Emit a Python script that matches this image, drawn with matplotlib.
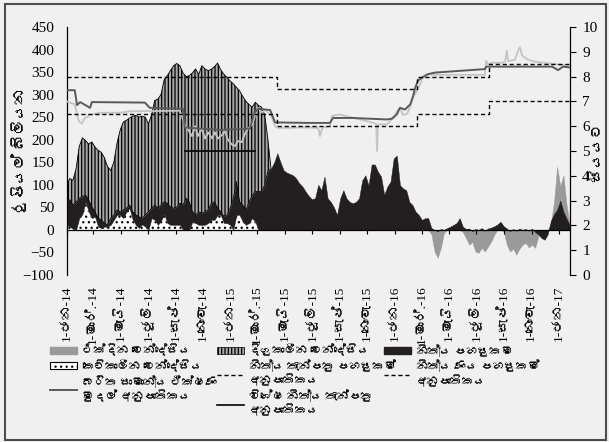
import warnings
import matplotlib
matplotlib.use("Agg")
import matplotlib.pyplot as plt
from matplotlib import font_manager
from matplotlib.ft2font import FT2Font
from matplotlib.patches import Patch, Rectangle
from matplotlib.lines import Line2D
import numpy as np
import pandas as pd

warnings.filterwarnings("ignore")

# ---------------------------------------------------------------------------
# dados - Rs. bn, observações semanais a partir de 01-01-2014
# ---------------------------------------------------------------------------
week_start = "2014-01-01"
n_weeks = 161

short_term = [11, 7, 2, 0, 26, 35, 62, 40, 26, 29,
              7, 4, 7, 7, 11, 22, 33, 33, 26, 40,
              48, 22, 11, 4, 12, 7, 0, 26, 22, 11,
              20, 35, 15, 11, 11, 11, 11, 0, 0, 0,
              18, 15, 11, 11, 11, 15, 22, 22, 33, 33,
              15, 15, 11, 0, 33, 33, 18, 11, 15, 26,
              18, 0] + [0] * 99

standing = [59, 59, 53, 62, 44, 39, 15, 26, 25, 11,
            19, 18, 8, 4, 15, 11, 11, 7, 18, 8,
            7, 18, 22, 25, 14, 26, 40, 22, 33, 37,
            35, 27, 44, 40, 37, 40, 48, 55, 70, 62,
            22, 18, 29, 26, 29, 29, 37, 40, 15, 7,
            15, 18, 37, 70, 74, 29, 37, 33, 47, 51,
            67, 85, 85, 100, 130,
            136, 150, 170, 150, 132,
            127, 124, 121, 114, 103, 96, 85, 75, 68, 70,
            100, 88, 118, 70, 62, 50, 33, 70, 88, 70,
            62, 59, 62, 70, 110, 121, 99, 145, 145, 129,
            118, 78, 96, 107, 158, 165, 99, 92, 88, 62,
            55, 40, 33, 22, 26, 26, 4,
            0, -3, 2, 0, 4, 7, 11, 15, 26, 7,
            2, 3, -3, 2, 0, 4, -2, 3, 5, 8,
            12, 18, 8, 3, -3, 2, -2, 3, 0, 2,
            -2, 3, -5, -10, -18, -22, -10, 20, 35, 45,
            65, 40, 25, 10]

long_term = [30, 48, 55, 74, 115, 130, 121, 124, 144, 144,
             150, 150, 145, 129, 106, 117, 148, 181, 195, 195,
             193, 212, 221, 221, 226, 217, 195, 207, 232, 242,
             245, 271, 283, 302, 316, 318, 305, 293, 270, 280,
             308, 324, 305, 327, 317, 309, 297, 300, 322, 315,
             315, 305, 282, 254, 209, 246, 241, 241, 216, 195,
             198, 191, 187, 155, 70] + [0] * 96

overnight = [0] * 116 + [-10, -48, -62, -40, -7, 0, 0, 0, 0, 0,
                         -5, -18, -33, -27, -48, -51, -40, -48, -37, -26,
                         -11, 0, 0, -4, -33, -48, -42, -55, -42, -33,
                         -29, -39, -33, -40, -15, -2, 0, 0, 15, 62,
                         140, 96, 121, 55, 11]

# taxas de política (%)
slfr_dates = ["2014-01-01", "2015-04-15", "2016-02-19", "2016-07-29", "2017-01-25"]
slfr_vals = [8.0, 7.5, 8.0, 8.5, 8.5]
sdfr_dates = ["2014-01-01", "2015-04-15", "2016-02-19", "2016-07-29", "2017-01-25"]
sdfr_vals = [6.5, 6.0, 6.5, 7.0, 7.0]
special_dates = ["2014-09-22", "2015-02-25"]
special_vals = [5.0, 5.0]

awcmr_dates = ["2014-01-01", "2014-01-19", "2014-01-24", "2014-01-31", "2014-02-22",
               "2014-02-26", "2014-06-24", "2014-07-05", "2014-09-17", "2014-09-21",
               "2014-10-25", "2014-12-08", "2015-02-13", "2015-02-22", "2015-03-03",
               "2015-03-30", "2015-04-10", "2015-06-27", "2015-08-10", "2015-08-17",
               "2015-09-30", "2015-12-15", "2015-12-26", "2016-01-06", "2016-01-13",
               "2016-01-24", "2016-02-05", "2016-02-11", "2016-02-16", "2016-02-22",
               "2016-03-02", "2016-03-16", "2016-03-31", "2016-07-20", "2016-07-23",
               "2016-11-25", "2016-12-17", "2016-12-30", "2017-01-10", "2017-01-25"]
awcmr_vals = [7.45, 7.45, 6.85, 6.97, 6.74,
              6.97, 6.95, 6.74, 6.70, 5.95,
              5.90, 5.85, 5.90, 6.50, 6.70,
              6.65, 6.15, 6.13, 6.13, 6.33,
              6.33, 6.27, 6.30, 6.47, 6.74,
              6.67, 6.88, 7.20, 7.55, 7.83,
              7.96, 8.10, 8.16, 8.30, 8.40,
              8.40, 8.40, 8.26, 8.40, 8.37]

market_dates = ["2014-01-01", "2014-01-08", "2014-01-19", "2014-01-24", "2014-01-28",
                "2014-02-04", "2014-02-09", "2014-02-22", "2014-03-16", "2014-04-30",
                "2014-05-22", "2014-09-10", "2014-09-21", "2014-09-28", "2014-10-07",
                "2014-10-14", "2014-10-20", "2014-10-29", "2014-11-05", "2014-11-12",
                "2014-11-21", "2014-11-27", "2014-12-04", "2014-12-13", "2014-12-19",
                "2014-12-26", "2015-01-04", "2015-01-11", "2015-01-17", "2015-01-26",
                "2015-02-02", "2015-02-09", "2015-02-18", "2015-02-24", "2015-03-03",
                "2015-03-12", "2015-03-19", "2015-03-25", "2015-04-03", "2015-04-10",
                "2015-04-16", "2015-05-13", "2015-06-05", "2015-07-15", "2015-07-19",
                "2015-07-24", "2015-08-10", "2015-08-15", "2015-09-01", "2015-09-30",
                "2015-11-01", "2015-11-21", "2015-11-23", "2015-11-25", "2015-12-15",
                "2015-12-29", "2016-01-07", "2016-01-13", "2016-01-20", "2016-01-29",
                "2016-02-04", "2016-02-11", "2016-02-20", "2016-02-27", "2016-03-04",
                "2016-03-13", "2016-03-31", "2016-07-20", "2016-07-23", "2016-07-27",
                "2016-08-05", "2016-08-23", "2016-09-03", "2016-09-07", "2016-09-10",
                "2016-09-25", "2016-10-02", "2016-10-06", "2016-10-11", "2016-10-24",
                "2016-11-09", "2016-12-01", "2016-12-23", "2017-01-15", "2017-01-25"]
market_vals = [7.00, 6.95, 6.88, 6.47, 6.20,
               6.10, 6.30, 6.45, 6.54, 6.54,
               6.60, 6.62, 6.07, 5.86, 5.60,
               6.00, 5.60, 5.90, 5.50, 5.75,
               5.50, 5.75, 5.50, 5.65, 5.80,
               5.45, 5.26, 5.20, 5.40, 5.35,
               5.70, 5.90, 6.07, 6.42, 6.74,
               6.55, 6.67, 6.55, 6.35, 6.00,
               5.93, 5.93, 5.95, 5.93, 5.60,
               5.93, 6.00, 6.42, 6.47, 6.34,
               6.20, 6.10, 5.00, 6.07, 6.07,
               6.34, 6.62, 6.74, 6.45, 6.50,
               6.74, 7.15, 7.43, 7.69, 7.96,
               8.10, 8.07, 8.07, 8.64, 8.50,
               8.56, 8.55, 8.60, 9.04, 8.62,
               8.68, 9.04, 9.18, 8.85, 8.68,
               8.60, 8.55, 8.50, 8.45, 8.35]

xtick_labels = ["1-ජන-14", "1-මාර්.-14", "1-මැයි-14", "1-ජූලි-14", "1-සැප්-14", "1-නොවැ-14",
                "1-ජන-15", "1-මාර්.-15", "1-මැයි-15", "1-ජූලි-15", "1-සැප්-15", "1-නොවැ-15",
                "1-ජන-16", "1-මාර්.-16", "1-මැයි-16", "1-ජූලි-16", "1-සැප්-16", "1-නොවැ-16",
                "1-ජන-17"]

lbl_overnight = "එක්දින වෙන්දේසිය"
lbl_long = "දිගුකාලීන වෙන්දේසිය"
lbl_standing = "නිත්‍ය පහසුකම"
lbl_short = "කෙටිකාලීන වෙන්දේසිය"
lbl_sdfr = "නිත්‍ය තැන්පතු පහසුකම්\nඅනුපාතිකය"
lbl_slfr = "නිත්‍ය ණය පහසුකම්\nඅනුපාතිකය"
lbl_awcmr = "බරිත සාමාන්‍ය ඒක්ෂණ\nමුදල් අනුපාතිකය"
lbl_special = "විශේෂ නිත්‍ය තැන්පතු\nඅනුපාතිකය"

# ---------------------------------------------------------------------------
# fontes: procura uma família com glifos cingaleses, se houver
# ---------------------------------------------------------------------------
def _sinhala_font():
    for f in font_manager.fontManager.ttflist:
        try:
            if 0x0DBB in FT2Font(f.fname).get_charmap():
                return f.name
        except Exception:
            continue
    return None


_si = _sinhala_font()
families = ["Liberation Serif"] + ([_si] if _si else []) + ["DejaVu Sans"]
plt.rcParams["font.family"] = families
plt.rcParams["hatch.linewidth"] = 0.9

BG = "#f0f0f0"
GRAY = "#9a9a9a"
BLACK = "#231f20"
HATCH_FACE = "#a8a8a8"
DARK_LINE = "#5a5a5a"
LIGHT_LINE = "#c4c4c4"
DASH = (0, (3, 2))

dates = pd.date_range(week_start, periods=n_weeks, freq="7D")
st = np.array(short_term, float)
sf = np.array(standing, float)
lt = np.array(long_term, float)
on = np.array(overnight, float)

fig = plt.figure(figsize=(6.09, 4.42), dpi=100, facecolor=BG)
ax = fig.add_axes([0.1095, 0.378, 0.826, 0.561])
ax.set_facecolor("none")

# áreas de liquidez (eixo esquerdo)
ax.fill_between(dates, 0, on, facecolor=GRAY, edgecolor=GRAY, lw=0.3, zorder=1)
n_st = np.flatnonzero(st).max() + 2
ax.fill_between(dates[:n_st], 0, st[:n_st], facecolor="white", edgecolor="black",
                hatch="...", lw=0, zorder=2)
ax.fill_between(dates, st, st + sf, facecolor=BLACK, edgecolor=BLACK, lw=0.3, zorder=2)
n_lt = np.flatnonzero(lt).max() + 2
ax.fill_between(dates[:n_lt], (st + sf)[:n_lt], (st + sf + lt)[:n_lt],
                facecolor=HATCH_FACE, edgecolor="black", hatch="|||||", lw=0.6, zorder=2)

ax.set_xlim(dates[0], dates[-1])
ax.set_ylim(-100, 450)
ax.set_yticks(np.arange(-100, 451, 50))
ax.set_xticks(pd.date_range("2014-01-01", "2017-01-01", freq="2MS"))
ax.set_xticklabels(xtick_labels)

ax.spines["top"].set_visible(False)
ax.spines["right"].set_visible(False)
ax.spines["bottom"].set_position(("data", 0))
ax.spines["bottom"].set_linewidth(0.9)
ax.spines["left"].set_linewidth(0.9)
ax.tick_params(axis="y", length=0, pad=9, labelsize=11)
ax.tick_params(axis="x", direction="out", length=3, width=0.8, pad=37,
               rotation=90, labelsize=9.5)

# taxas (eixo direito)
ax2 = ax.twinx()
ax2.set_ylim(0, 10)
ax2.set_yticks(range(0, 11))
ax2.plot(pd.to_datetime(market_dates), market_vals, color=LIGHT_LINE, lw=1.3, zorder=3)
ax2.plot(pd.to_datetime(awcmr_dates), awcmr_vals, color=DARK_LINE, lw=1.4, zorder=4)
ax2.step(pd.to_datetime(slfr_dates), slfr_vals, where="post", color="black",
         lw=1.0, ls=DASH, zorder=5)
ax2.step(pd.to_datetime(sdfr_dates), sdfr_vals, where="post", color="black",
         lw=1.0, ls=DASH, zorder=5)
ax2.plot(pd.to_datetime(special_dates), special_vals, color="black", lw=1.2, zorder=5)
ax2.set_xlim(dates[0], dates[-1])
for s in ("top", "left", "bottom"):
    ax2.spines[s].set_visible(False)
ax2.spines["right"].set_linewidth(0.9)
ax2.tick_params(axis="y", direction="out", length=4, width=0.8, pad=5, labelsize=11)

# títulos dos eixos
fig.text(20 / 609, 1 - 151 / 442, "රුපියල් බිලියන", rotation=90,
         ha="center", va="center", fontsize=11)
fig.text(598 / 609, 1 - 151 / 442, "සියයට", rotation=90,
         ha="center", va="center", fontsize=11)

# legenda em três colunas
h_overnight = Patch(facecolor=GRAY, edgecolor=GRAY)
h_long = Patch(facecolor=HATCH_FACE, edgecolor="black", hatch="|||||", lw=0.5)
h_standing = Patch(facecolor=BLACK, edgecolor=BLACK)
h_short = Patch(facecolor="white", edgecolor="black", hatch="...", lw=0.8)
h_sdfr = Line2D([], [], color="black", lw=1.0, ls=DASH)
h_slfr = Line2D([], [], color="black", lw=1.0, ls=DASH)
h_awcmr = Line2D([], [], color=DARK_LINE, lw=1.4)
h_special = Line2D([], [], color="black", lw=1.2)

cols = [
    (50, [h_overnight, h_short, h_awcmr], [lbl_overnight, lbl_short, lbl_awcmr]),
    (217, [h_long, h_sdfr, h_special], [lbl_long, lbl_sdfr, lbl_special]),
    (384, [h_standing, h_slfr], [lbl_standing, lbl_slfr]),
]
for x0, hs, ls in cols:
    fig.legend(hs, ls, loc="upper left", bbox_to_anchor=(x0 / 609, 1 - 345 / 442),
               frameon=False, fontsize=8.5, handlelength=2.3, handleheight=0.55,
               handletextpad=0.4, labelspacing=0.25, borderpad=0, borderaxespad=0)

# moldura
fig.patches.append(Rectangle((5 / 609, 2 / 442), 601 / 609, 436 / 442,
                             transform=fig.transFigure, fill=False,
                             edgecolor="#4d4d4d", lw=1.5))

fig.savefig("out.png", dpi=100, facecolor=BG)
